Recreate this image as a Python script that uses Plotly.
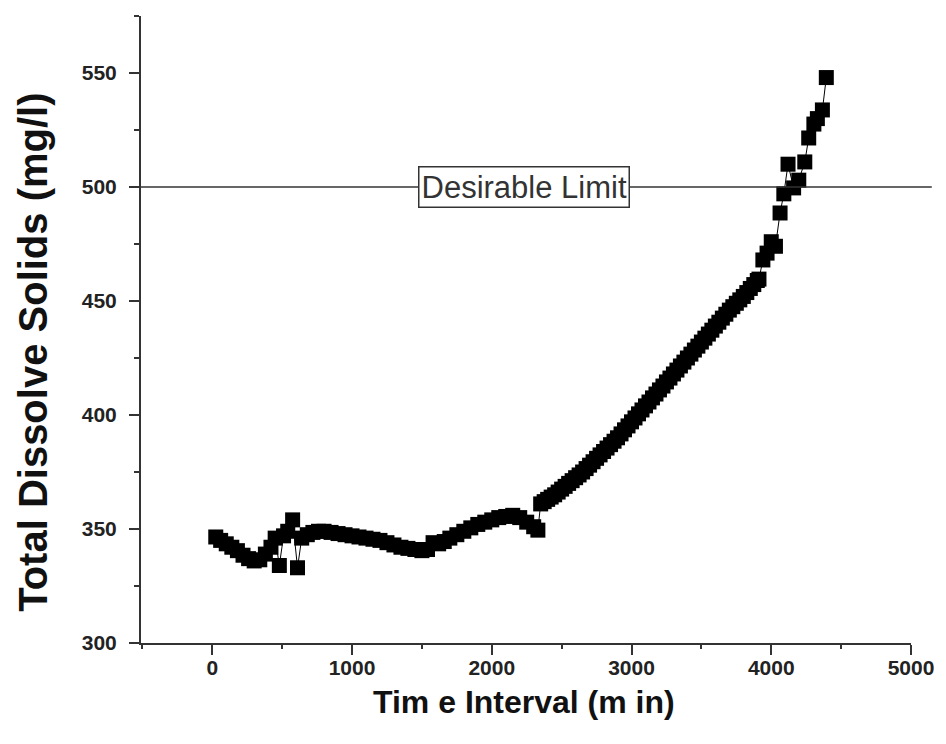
import plotly.graph_objects as go

time_min = [25, 60, 100, 140, 180, 220, 260, 300, 340, 380, 420, 450, 480, 510, 540, 575, 610,
            640, 680, 720, 760, 800, 850, 900, 950, 1000, 1050, 1100, 1150, 1200, 1250, 1300,
            1350, 1400, 1450, 1500, 1540, 1580, 1620, 1660, 1700, 1750, 1800, 1850, 1900, 1950,
            2000, 2050, 2100, 2150, 2200, 2250, 2300, 2330,
            2350, 2375, 2400, 2425, 2450, 2475, 2500, 2525, 2550, 2575, 2600, 2625, 2650, 2675,
            2700, 2725, 2750, 2775, 2800, 2825, 2850, 2875, 2900, 2925, 2950, 2975, 3000, 3025,
            3050, 3075, 3100, 3125, 3150, 3175, 3200, 3225, 3250, 3275, 3300, 3325, 3350, 3375,
            3400, 3425, 3450, 3475, 3500, 3525, 3550, 3575, 3600, 3625, 3650, 3675, 3700, 3725,
            3750, 3775, 3800, 3825, 3850, 3875, 3900, 3912, 3940,
            3970, 4000, 4030, 4063, 4090, 4120, 4160, 4197, 4240, 4268, 4305, 4330, 4366, 4394]
tds = [346.5, 345, 343.5, 342, 340.5, 338.5, 337, 336, 336.5, 339, 342, 346, 334, 347, 349, 354, 333,
       346, 347.5, 348.5, 349, 349, 348.5, 348, 347.5, 347, 346.5, 346, 345.5, 345, 344, 343,
       342, 341.5, 341, 340.5, 341, 344, 343.5, 344.5, 346, 347.5, 349, 350.5, 352, 353,
       354, 355, 355.5, 356, 355, 353, 351, 349.5,
       361, 362, 363, 364, 365, 366.2, 367.5, 368.7, 370, 371.2, 372.5, 373.7, 375, 376.5,
       378, 379.5, 381, 382.5, 384, 385.5, 387, 388.5, 390, 391.7, 393.5, 395.2, 397, 398.7,
       400.5, 402.2, 404, 405.7, 407.5, 409.2, 411, 412.7, 414.5, 416.2, 418, 419.7, 421.5, 423.2,
       425, 426.7, 428.5, 430.2, 432, 433.7, 435.5, 437.2, 439, 440.7, 442.5, 444.2, 446, 447.5,
       449, 450.5, 452, 453.7, 455.5, 457.2, 459, 459.6, 468,
       471, 476, 474, 488.6, 497, 510, 499.6, 503, 511, 521.5, 527.6, 530, 533.8, 548]

desirable_limit = 500
x_ticks = [0, 1000, 2000, 3000, 4000, 5000]
y_ticks = [300, 350, 400, 450, 500, 550]

font_family = "Arial, Liberation Sans, sans-serif"
axis_color = "#333333"

fig = go.Figure()
fig.add_trace(go.Scatter(
    x=time_min, y=tds, mode="lines+markers",
    line=dict(color="black", width=1),
    marker=dict(symbol="square", size=15, color="black"),
    showlegend=False,
))

fig.add_shape(type="line", xref="paper", x0=0, x1=1.027, yref="y",
              y0=desirable_limit, y1=desirable_limit,
              line=dict(color=axis_color, width=1.5))
fig.add_annotation(x=0.498, xref="paper", y=desirable_limit, yref="y",
                   text="Desirable Limit", showarrow=False,
                   font=dict(family=font_family, size=31, color="#333333"),
                   bgcolor="white", bordercolor="#333333", borderwidth=1.5, borderpad=2)

# axis titles
fig.add_annotation(x=-0.1406, xref="paper", y=0.464, yref="paper",
                   text="Total Dissolve Solids (mg/l)", textangle=-90, showarrow=False,
                   xanchor="center", yanchor="middle",
                   font=dict(size=40, family=font_family, color="#111111", weight="bold"))
fig.add_annotation(x=0.498, xref="paper", y=-0.094, yref="paper",
                   text="Tim e Interval (m in)", showarrow=False,
                   xanchor="center", yanchor="middle",
                   font=dict(size=32, family=font_family, color="#111111", weight="bold"))

fig.update_layout(
    width=946, height=744,
    margin=dict(l=141, r=30, t=16, b=101),
    plot_bgcolor="white", paper_bgcolor="white",
    font=dict(family=font_family, color="#222222"),
)
fig.update_xaxes(
    range=[-510, 5000], tickvals=x_ticks, showgrid=False, zeroline=False,
    showline=True, linecolor=axis_color, linewidth=2,
    ticks="outside", ticklen=10, tickwidth=1.5, tickcolor=axis_color,
    minor=dict(dtick=500, tick0=0, ticks="outside", ticklen=4, tickwidth=1.5, tickcolor=axis_color),
    tickfont=dict(size=21, family=font_family, color="#222222", weight="bold"),
    ticklabelstandoff=-5,
)
fig.update_yaxes(
    range=[300, 575], tickvals=y_ticks, showgrid=False, zeroline=False,
    showline=True, linecolor=axis_color, linewidth=2,
    ticks="outside", ticklen=10, tickwidth=1.5, tickcolor=axis_color,
    minor=dict(dtick=25, tick0=300, ticks="outside", ticklen=5, tickwidth=1.5, tickcolor=axis_color),
    tickfont=dict(size=21, family=font_family, color="#222222", weight="bold"),
    ticklabelstandoff=8,
)

fig.write_html("out.html")
